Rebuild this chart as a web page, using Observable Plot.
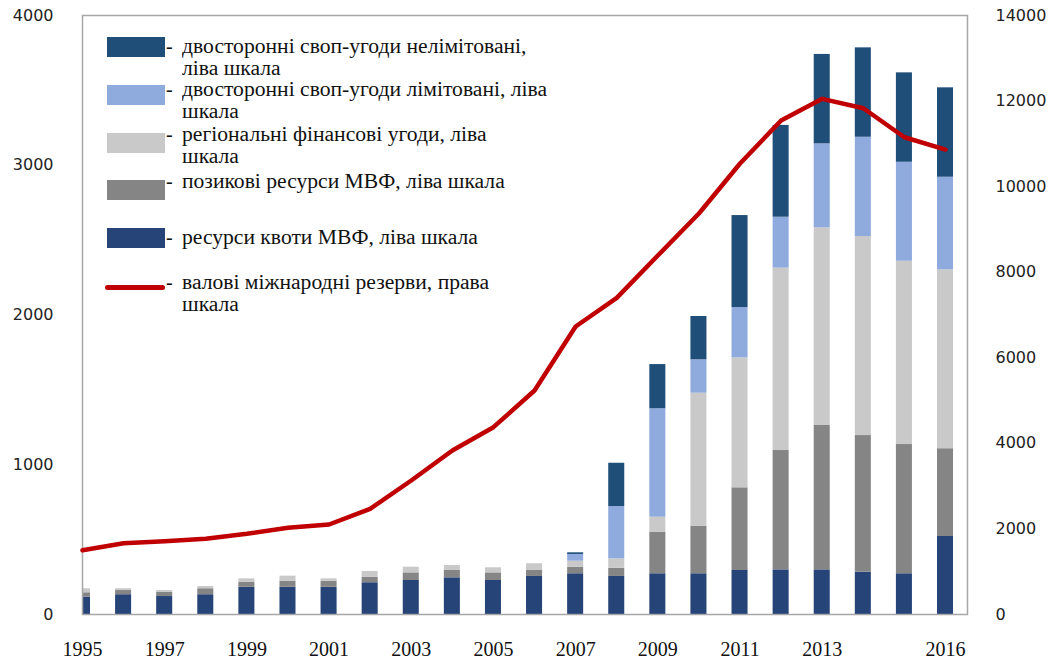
<!DOCTYPE html>
<html><head><meta charset="utf-8">
<script src="https://cdn.jsdelivr.net/npm/d3@7"></script>
<script src="https://cdn.jsdelivr.net/npm/@observablehq/plot@0.6"></script>
<style>
body{margin:0;background:#fff;}
#wrap{position:relative;width:1053px;height:664px;overflow:hidden;}
#legend{position:absolute;left:0;top:0;font-family:"Liberation Serif","Times New Roman",serif;font-size:20px;line-height:21.5px;color:#111;}
.sw{position:absolute;left:107px;width:58px;height:20px;}
.ln{position:absolute;left:105px;width:60px;height:5px;border-radius:3px;}
.tx{position:absolute;left:166px;white-space:nowrap;}
.tx .d{display:inline-block;width:16px;vertical-align:top;}
.tx .t{display:inline-block;vertical-align:top;transform:scaleX(1.08);transform-origin:0 0;}
</style></head>
<body><div id="wrap"><div id="chart"></div><div id="legend"></div></div>
<script>
const years = [1995,1996,1997,1998,1999,2000,2001,2002,2003,2004,2005,2006,2007,2008,2009,2010,2011,2012,2013,2014,2015,2016];
const yearTicks = [1995,1997,1999,2001,2003,2005,2007,2009,2011,2013,2016];
const leftTicks = [0,1000,2000,3000,4000];
const rightTicks = [0,2000,4000,6000,8000,10000,12000,14000];

const quota     = [116,132,120,132,182,182,182,212,227,245,227,254,272,254,272,272,294,298,298,283,272,521];
const borrowed  = [29,28,29,40,34,40,40,37,51,49,51,40,44,55,278,318,552,797,964,912,863,586];
const regional  = [27,12,11,15,22,34,16,38,38,33,34,45,40,63,100,888,868,1218,1320,1329,1224,1195];
const limited   = [0,0,0,0,0,0,0,0,0,0,0,0,45,349,724,223,336,340,561,663,661,618];
const unlimited = [0,0,0,0,0,0,0,0,0,0,0,0,11,289,295,289,614,613,597,597,597,597];
const reserves  = [1500,1666,1713,1769,1886,2026,2103,2470,3132,3833,4378,5235,6731,7400,8390,9372,10540,11545,12052,11833,11155,10867];

const seriesNames = ["ресурси квоти МВФ","позикові ресурси МВФ","регіональні фінансові угоди","двосторонні своп-угоди лімітовані","двосторонні своп-угоди нелімітовані"];
const seriesColors = ["#264478","#858585","#C9C9C9","#8FAADC","#1F4E79"];
const lineName = "валові міжнародні резерви";
const lineColor = "#C00000";

const legendItems = [
  {kind:"rect", color:"#1F4E79", lines:["двосторонні своп-угоди нелімітовані,","ліва шкала"], top:37, ttop:36},
  {kind:"rect", color:"#8FAADC", lines:["двосторонні своп-угоди лімітовані, ліва","шкала"], top:85, ttop:79},
  {kind:"rect", color:"#C9C9C9", lines:["регіональні фінансові угоди, ліва","шкала"], top:133, ttop:124},
  {kind:"rect", color:"#858585", lines:["позикові ресурси МВФ, ліва шкала"], top:180, ttop:171},
  {kind:"rect", color:"#264478", lines:["ресурси квоти МВФ, ліва шкала"], top:228, ttop:227},
  {kind:"line", color:"#C00000", lines:["валові міжнародні резерви, права","шкала"], top:285, ttop:272}
];

// build stacked table
const seriesValues = [quota, borrowed, regional, limited, unlimited];
const rows = [];
years.forEach((yr, i) => {
  let acc = 0;
  seriesValues.forEach((vals, s) => {
    const v = vals[i];
    if (v > 0) rows.push({year: yr, series: seriesNames[s], y1: acc, y2: acc + v});
    acc += v;
  });
});
const ratio = 4000 / 14000;
const lineData = years.map((yr, i) => ({year: yr, value: reserves[i] * ratio}));
const half = 0.195;

const chart = Plot.plot({
  width: 1053, height: 664,
  marginLeft: 82, marginRight: 86, marginTop: 15, marginBottom: 50,
  x: {domain: [1995, 2016.535]},
  y: {domain: [0, 4000]},
  color: {domain: seriesNames, range: seriesColors},
  marks: [
    Plot.rect(rows, {x1: d => d.year - half, x2: d => d.year + half, y1: "y1", y2: "y2", fill: "series", clip: true}),
    Plot.frame({stroke: "#A6A6A6", strokeWidth: 1.5}),
    Plot.line(lineData, {x: "year", y: "value", stroke: lineColor, strokeWidth: 4.5, strokeLinejoin: "round", strokeLinecap: "round"}),
    Plot.axisY({ticks: leftTicks, tickFormat: d => String(d), tickSize: 0, tickPadding: 29, anchor: "left", label: null, fontSize: 16, fontFamily: "DejaVu Sans, Verdana, sans-serif", fill: "#222"}),
    Plot.axisY({ticks: rightTicks.map(v => v * ratio), tickFormat: d => String(Math.round(d / ratio)), tickSize: 0, tickPadding: 28, anchor: "right", label: null, fontSize: 16, fontFamily: "DejaVu Sans, Verdana, sans-serif", fill: "#222"}),
    Plot.axisX({ticks: yearTicks, tickFormat: d => String(d), tickSize: 0, tickPadding: 27, label: null, fontSize: 20, fontFamily: "Liberation Serif, Times New Roman, serif", fill: "#111"})
  ]
});
document.getElementById("chart").appendChild(chart);

const lg = document.getElementById("legend");
legendItems.forEach(it => {
  const sw = document.createElement("div");
  if (it.kind === "rect") { sw.className = "sw"; sw.style.top = it.top + "px"; }
  else { sw.className = "ln"; sw.style.top = it.top + "px"; }
  sw.style.background = it.color;
  lg.appendChild(sw);
  const tx = document.createElement("div");
  tx.className = "tx";
  tx.style.top = it.ttop + "px";
  const d = document.createElement("span"); d.className = "d"; d.textContent = "-";
  const t = document.createElement("span"); t.className = "t";
  it.lines.forEach((l, k) => { if (k) t.appendChild(document.createElement("br")); t.appendChild(document.createTextNode(l)); });
  tx.appendChild(d); tx.appendChild(t);
  lg.appendChild(tx);
});
</script>
</body></html>
